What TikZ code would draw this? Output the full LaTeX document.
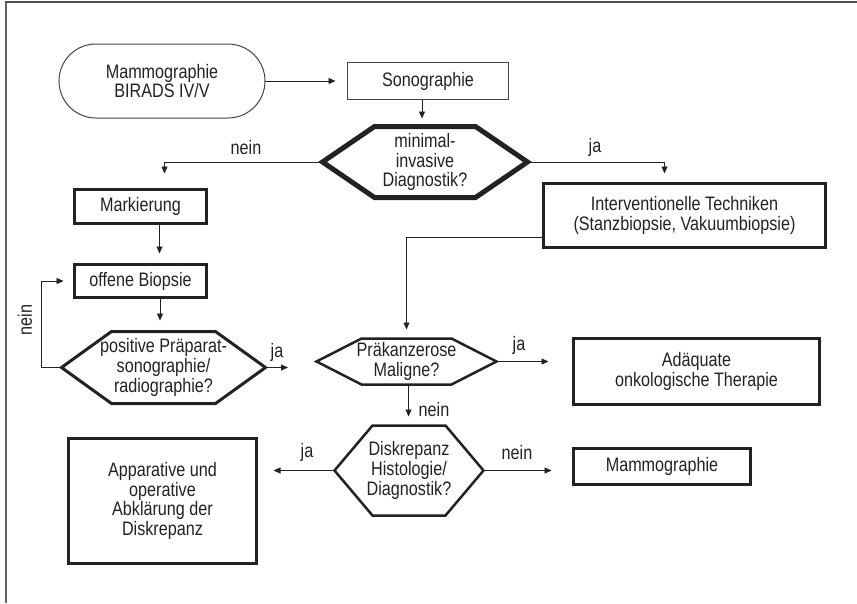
\documentclass[tikz,border=0pt]{standalone}
\usepackage{fontspec}
\setmainfont{Liberation Sans}[FakeStretch=0.83]
\usetikzlibrary{arrows.meta,calc}
\definecolor{ink}{HTML}{222222}
\tikzset{
 txt/.style={font=\fontsize{19.5}{19.8}\selectfont, text=ink, align=center},
 box/.style={txt, draw=ink, line width=3pt, inner sep=0pt, outer sep=0pt},
 thinbox/.style={box, line width=1pt, draw=ink!85},
 hexn/.style={txt, inner sep=0pt, outer sep=0pt},
 hexl/.style={draw=ink, line width=2.5pt, line join=miter},
 conn/.style={draw=ink, line width=0.8pt, -{Triangle[length=7pt,width=6pt]}},
 lbl/.style={txt, inner sep=0pt},
}
\newcommand\drawhex[3]{\draw[hexl,#3] (#1.west) -- ([xshift=#2]#1.north west) -- ([xshift=-#2]#1.north east) -- (#1.east) -- ([xshift=-#2]#1.south east) -- ([xshift=#2]#1.south west) -- cycle;}
\begin{document}
\begin{tikzpicture}[x=1pt,y=-1pt]
\useasboundingbox (0,0) rectangle (857,603);
% frame
\draw[ink!70, line width=2pt] (6,603) -- (6,2);
\draw[ink!80, line width=1.5pt] (5,2) -- (857,2);

% nodes
\node[thinbox, rounded corners=37pt, minimum width=206pt, minimum height=74pt] (term) at (162,81) {Mammographie\\BIRADS IV/V};
\node[thinbox, minimum width=161pt, minimum height=37pt] (sono) at (428,81) {Sonographie};

\node[hexn, minimum width=205pt, minimum height=71pt] (h1) at (425,162) {minimal-\\invasive\\Diagnostik?};
\drawhex{h1}{52pt}{line width=5pt}

\node[box, minimum width=132pt, minimum height=34pt] (mark) at (140.5,206.5) {Markierung};
\node[box, minimum width=282pt, minimum height=64pt] (interv) at (684.5,215.5) {Interventionelle Techniken\\(Stanzbiopsie, Vakuumbiopsie)};
\node[box, minimum width=132pt, minimum height=33pt] (offene) at (140.5,281) {offene Biopsie};

\node[hexn, minimum width=204pt, minimum height=72pt] (h2) at (163.5,367.5) {positive Präparat-\\sonographie/\\radiographie?};
\drawhex{h2}{50pt}{line width=3pt}

\node[hexn, minimum width=180pt, minimum height=46pt] (h3) at (406.5,361.5) {Präkanzerose\\Maligne?};
\drawhex{h3}{45pt}{}

\node[box, minimum width=246pt, minimum height=66pt] (adq) at (696.5,371.5) {Adäquate\\onkologische Therapie};

\node[hexn, minimum width=149pt, minimum height=90pt] (h4) at (409,470.5) {Diskrepanz\\Histologie/\\Diagnostik?};
\drawhex{h4}{38pt}{}

\node[box, line width=2.5pt, minimum width=188pt, minimum height=125pt] (app) at (162.5,501) {Apparative und\\operative\\Abklärung der\\Diskrepanz};
\node[box, line width=2.5pt, minimum width=177pt, minimum height=36pt] (mam) at (662,466.5) {Mammographie};

% connectors
\draw[conn, shorten >=12pt] (term.east) -- (sono.west);
\draw[conn, shorten >=8pt] ([xshift=-6pt]sono.south) -- ([xshift=-6pt]sono.south |- h1.north);
\draw[conn, shorten >=16pt] (h1.west) -| ([xshift=24pt]mark.north);
\draw[conn, shorten >=10pt] (h1.east) -| ([xshift=-20pt]interv.north);
\draw[conn, shorten >=11pt] ([xshift=19pt]mark.south) -- ([xshift=19pt]mark.south |- offene.north);
\draw[conn, shorten >=11pt] ([xshift=19.5pt]offene.south) -- ([xshift=19.5pt]offene.south |- h2.north);
\draw[conn, shorten >=11pt] (h2.west) -- ++(-20pt,0pt) |- (offene.west);
\coordinate (h2end) at (288,367.5);
\draw[conn] (h2.east) -- (h2end);
\draw[conn, shorten >=9pt] ([yshift=-21.5pt]interv.west) -| (h3.north);
\draw[conn, shorten >=25pt] (h3.east) -- (h3.east -| adq.west);
\draw[conn, shorten >=9pt] ([xshift=2pt]h3.south) -- ([xshift=2pt]h3.south |- h4.north);
\draw[conn, shorten >=17pt] (h4.west) -- (h4.west -| app.east);
\draw[conn, shorten >=22pt] (h4.east) -- (h4.east -| mam.west);

% labels
\node[lbl] at (246,148) {nein};
\node[lbl] at (595,147) {ja};
\node[lbl, rotate=90] at (25,320) {nein};
\node[lbl] at (277,352) {ja};
\node[lbl] at (519,345) {ja};
\node[lbl] at (434,410) {nein};
\node[lbl] at (307,452) {ja};
\node[lbl] at (517,453) {nein};
\end{tikzpicture}
\end{document}
